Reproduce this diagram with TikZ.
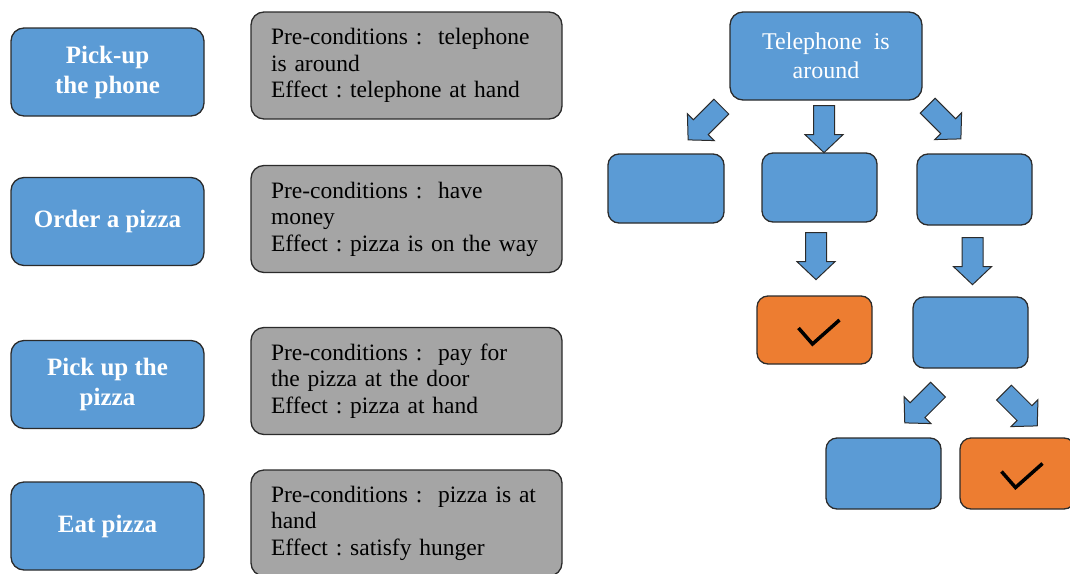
\documentclass[tikz,border=0pt]{standalone}
\usepackage{fontspec}
\setmainfont{Liberation Serif}
\usetikzlibrary{calc}
\definecolor{bluefill}{HTML}{5B9BD5}
\definecolor{orangefill}{HTML}{ED7D31}
\definecolor{grayfill}{HTML}{A5A5A5}
\definecolor{edgecol}{HTML}{2B2B2B}
\frenchspacing
\begin{document}
\begin{tikzpicture}[x=1pt,y=1pt,
  box/.style={rounded corners=13pt, draw=edgecol, line width=1.3pt, inner sep=0pt},
  stepblue/.style={box, fill=bluefill, minimum width=193pt, minimum height=88pt,
    align=center, text=white, font=\fontsize{25}{30}\selectfont\bfseries},
  condbox/.style={box, fill=grayfill, minimum width=311pt, minimum height=107pt,
    text width=281pt, align=left, text=black, font=\fontsize{23.5}{26.5}\selectfont\frenchspacing},
  treeblue/.style={box, rounded corners=11pt, fill=bluefill, minimum width=115pt, minimum height=70pt},
  treeok/.style={box, rounded corners=11pt, fill=orangefill, minimum width=115pt, minimum height=68pt},
  arrowbody/.style={draw=edgecol, line width=1pt, fill=bluefill},
  checkline/.style={draw=black, line width=3.5pt},
  barrow/.pic={\path[arrowbody] (0,-10.5) -- (29,-10.5) -- (29,-19) -- (47,0) -- (29,19) -- (29,10.5) -- (0,10.5) -- cycle;},
  tick/.pic={\path[checkline] (-16,2) -- (-2,-14) -- (25,10);}
]
\useasboundingbox (0,0) rectangle (1070,-573);

% left column
\node[stepblue] (s1) at (107.5,-72) {Pick-up\\the phone};
\node[stepblue] (s2) at (107.5,-221.5) {Order a pizza};
\node[stepblue] (s3) at (107.5,-384.5) {Pick up the\\pizza};
\node[stepblue] (s4) at (107.5,-526) {Eat pizza};

\node[condbox] (c1) at (406.5,-65.5) {\hspace*{5pt}Pre-conditions :\ \ telephone\\\hspace*{5pt}is around\\\hspace*{5pt}Effect : telephone at hand};
\node[condbox] (c2) at (406.5,-219) {\hspace*{5pt}Pre-conditions :\ \ have\\\hspace*{5pt}money\\\hspace*{5pt}Effect : pizza is on the way};
\node[condbox] (c3) at (406.5,-381) {\hspace*{5pt}Pre-conditions :\ \ pay for\\\hspace*{5pt}the pizza at the door\\\hspace*{5pt}Effect : pizza at hand};
\node[condbox, minimum height=106pt] (c4) at (406.5,-523) {\hspace*{5pt}Pre-conditions :\ \ pizza is at\\\hspace*{5pt}hand\\\hspace*{5pt}Effect : satisfy hunger};

% tree
\node[box, fill=bluefill, minimum width=192pt, minimum height=88pt, align=center, text=white,
  font=\fontsize{24}{29}\selectfont] (top) at (826,-56) {Telephone\ \ is\\around};
\node[treeblue, minimum width=116pt, minimum height=69pt] (b1) at (666,-188.5) {};
\node[treeblue, minimum height=69pt] (b2) at (819.5,-187.5) {};
\node[treeblue, minimum height=71pt] (b3) at (974.5,-189.5) {};
\node[treeok] (k1) at (814.5,-330) {};
\node[treeblue, minimum height=71pt] (b4) at (970.5,-332.5) {};
\node[treeblue, minimum height=71pt] (b5) at (883.5,-473.5) {};
\node[treeok, minimum height=71pt] (k2) at (1017.5,-473.5) {};

\pic at (k1.center) {tick};
\pic at (k2.center) {tick};

% block arrows
\pic[rotate=225] at ($(top.south west)+(-8,-6)$) {barrow};
\pic[rotate=-90] at ($(top.south)+(-2,-5)$) {barrow};
\pic[rotate=-45] at ($(top.south east)+(5,-5)$) {barrow};
\pic[rotate=-90] at ($(b2.south)+(-3.5,-10)$) {barrow};
\pic[rotate=-90] at ($(b3.south)+(-2,-12)$) {barrow};
\pic[rotate=225] at ($(b4.south)+(-32.5,-21)$) {barrow};
\pic[rotate=-45] at ($(b4.south)+(33.5,-24)$) {barrow};
\end{tikzpicture}
\end{document}
